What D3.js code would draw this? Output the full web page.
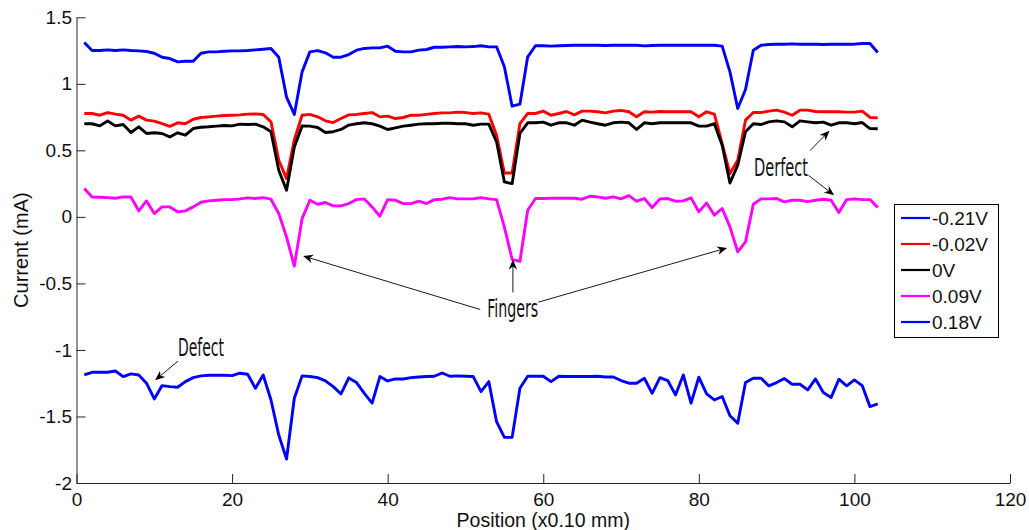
<!DOCTYPE html>
<html>
<head>
<meta charset="utf-8">
<script src="https://cdn.jsdelivr.net/npm/d3@7"></script>
<style>
  html, body { margin: 0; padding: 0; background: #fff; }
  svg { display: block; }
  .axis text { font-family: "Liberation Sans", Arial, sans-serif; font-size: 19px; fill: #111; }
  .axis path, .axis line { stroke: #262626; stroke-width: 1; }
</style>
</head>
<body>
<svg id="chart" width="1029" height="530"></svg>
<script>
// ---------------- DATA ----------------
const positions = d3.range(1, 104); // sample index 1..103 (x0.10 mm)

const seriesNames = ["-0.21V", "-0.02V", "0V", "0.09V", "0.18V"];
const seriesColors = ["#0000ff", "#ff0000", "#000000", "#ff00ff", "#0000ff"];

const valsM021 = [1.31,1.25,1.25,1.255,1.25,1.255,1.25,1.248,1.243,1.23,1.20,1.19,1.165,1.17,1.17,1.23,1.24,1.24,1.245,1.248,
  1.248,1.25,1.255,1.26,1.265,1.20,0.90,0.77,1.09,1.24,1.25,1.233,1.20,1.20,1.22,1.253,1.266,1.27,1.27,1.283,
  1.245,1.24,1.24,1.253,1.258,1.275,1.275,1.278,1.28,1.278,1.28,1.286,1.278,1.278,1.128,0.832,0.847,1.203,1.286,1.286,
  1.283,1.286,1.288,1.29,1.29,1.29,1.29,1.288,1.29,1.29,1.29,1.29,1.285,1.288,1.29,1.29,1.29,1.29,1.29,1.29,
  1.29,1.29,1.283,1.09,0.815,0.957,1.253,1.29,1.296,1.298,1.298,1.30,1.298,1.298,1.298,1.296,1.298,1.298,1.298,1.298,
  1.303,1.303,1.236];

const valsM002 = [0.777,0.777,0.764,0.784,0.772,0.764,0.727,0.757,0.727,0.72,0.70,0.68,0.707,0.70,0.734,0.747,0.752,0.757,0.762,0.764,
  0.767,0.772,0.774,0.77,0.714,0.426,0.288,0.58,0.764,0.77,0.752,0.722,0.709,0.739,0.767,0.77,0.777,0.784,0.752,0.757,
  0.739,0.747,0.764,0.764,0.77,0.777,0.782,0.782,0.787,0.784,0.777,0.782,0.772,0.614,0.33,0.33,0.70,0.777,0.777,0.795,
  0.764,0.777,0.792,0.767,0.795,0.795,0.79,0.782,0.795,0.80,0.79,0.752,0.79,0.787,0.792,0.79,0.79,0.79,0.79,0.752,
  0.79,0.772,0.55,0.326,0.426,0.727,0.784,0.784,0.795,0.802,0.787,0.764,0.802,0.802,0.792,0.79,0.79,0.79,0.787,0.787,
  0.795,0.747,0.744];

const vals0 = [0.70,0.70,0.684,0.72,0.684,0.694,0.634,0.677,0.627,0.632,0.627,0.60,0.632,0.614,0.664,0.674,0.677,0.682,0.687,0.684,
  0.697,0.694,0.697,0.677,0.64,0.35,0.20,0.526,0.684,0.682,0.672,0.634,0.64,0.657,0.69,0.70,0.707,0.70,0.682,0.657,
  0.669,0.682,0.689,0.697,0.70,0.70,0.704,0.704,0.70,0.70,0.689,0.697,0.697,0.564,0.263,0.25,0.627,0.707,0.707,0.712,
  0.689,0.707,0.707,0.689,0.727,0.712,0.70,0.689,0.707,0.712,0.707,0.657,0.707,0.70,0.707,0.707,0.707,0.707,0.707,0.682,
  0.682,0.70,0.539,0.255,0.388,0.64,0.70,0.694,0.714,0.722,0.714,0.677,0.722,0.714,0.707,0.712,0.689,0.707,0.707,0.70,
  0.709,0.664,0.662];

const valsP009 = [0.213,0.15,0.148,0.145,0.14,0.15,0.15,0.045,0.12,0.025,0.075,0.075,0.038,0.045,0.075,0.11,0.12,0.125,0.13,0.13,
  0.135,0.143,0.138,0.145,0.133,0.025,-0.15,-0.37,-0.013,0.125,0.095,0.108,0.083,0.083,0.10,0.13,0.135,0.075,0.005,0.13,
  0.125,0.10,0.10,0.118,0.10,0.13,0.133,0.145,0.135,0.135,0.135,0.145,0.135,0.13,-0.075,-0.32,-0.335,0.05,0.138,0.138,
  0.14,0.14,0.14,0.14,0.133,0.155,0.15,0.14,0.15,0.135,0.16,0.118,0.138,0.07,0.135,0.138,0.118,0.12,0.143,0.038,
  0.105,0.013,0.063,-0.075,-0.263,-0.188,0.095,0.135,0.135,0.138,0.113,0.125,0.125,0.115,0.125,0.133,0.125,0.033,0.13,0.135,
  0.13,0.13,0.07];

const valsP018 = [-1.188,-1.168,-1.168,-1.168,-1.158,-1.20,-1.18,-1.188,-1.25,-1.368,-1.268,-1.276,-1.28,-1.238,-1.208,-1.195,-1.19,-1.19,-1.19,-1.193,
  -1.175,-1.183,-1.288,-1.188,-1.376,-1.639,-1.82,-1.363,-1.195,-1.20,-1.208,-1.233,-1.276,-1.33,-1.21,-1.245,-1.326,-1.40,-1.20,-1.233,
  -1.218,-1.218,-1.208,-1.203,-1.20,-1.198,-1.173,-1.198,-1.195,-1.198,-1.20,-1.313,-1.238,-1.539,-1.657,-1.657,-1.288,-1.198,-1.198,-1.198,
  -1.238,-1.198,-1.20,-1.20,-1.20,-1.20,-1.198,-1.203,-1.203,-1.23,-1.25,-1.25,-1.213,-1.326,-1.208,-1.23,-1.338,-1.188,-1.40,-1.205,
  -1.33,-1.376,-1.35,-1.494,-1.551,-1.245,-1.213,-1.213,-1.27,-1.245,-1.215,-1.258,-1.258,-1.30,-1.218,-1.32,-1.358,-1.22,-1.27,-1.225,
  -1.268,-1.426,-1.406];

const xTicks = [0, 20, 40, 60, 80, 100, 120];
const yTicks = [-2, -1.5, -1, -0.5, 0, 0.5, 1, 1.5];
const xLabel = "Position (x0.10 mm)";
const yLabel = "Current (mA)";

// annotations in data coordinates
const annoTexts = [
  { text: "Derfect", x: 87.1, y: 0.307, w: 54 },
  { text: "Fingers", x: 52.8, y: -0.756, w: 51 },
  { text: "Defect",  x: 13.05, y: -1.048, w: 46 }
];
const annoArrows = [
  { x1: 94.3, y1: 0.499, x2: 96.8, y2: 0.647 },
  { x1: 94.1, y1: 0.312, x2: 97.4, y2: 0.162 },
  { x1: 51.9, y1: -0.696, x2: 29.13, y2: -0.294 },
  { x1: 56.1, y1: -0.568, x2: 56.1, y2: -0.321 },
  { x1: 59.36, y1: -0.641, x2: 83.63, y2: -0.233 },
  { x1: 13.05, y1: -1.084, x2: 10.1, y2: -1.228 }
];

// ---------------- CHART ----------------
const allSeries = [valsM021, valsM002, vals0, valsP009, valsP018];
const svg = d3.select("#chart");

const x = d3.scaleLinear().domain([0, 120]).range([76.5, 1010]);
const y = d3.scaleLinear().domain([-2, 1.5]).range([483, 17.3]);

// axes
svg.append("g").attr("class", "axis").attr("transform", "translate(0,483)")
  .call(d3.axisBottom(x).tickValues(xTicks).tickFormat(d3.format("d")).tickSizeInner(-9).tickSizeOuter(0).tickPadding(9.5));
svg.append("g").attr("class", "axis").attr("transform", "translate(76.5,0)")
  .call(d3.axisLeft(y).tickValues(yTicks).tickFormat(d => String(d)).tickSizeInner(-9).tickSizeOuter(0).tickPadding(4.5));

svg.append("text")
  .attr("x", (x.range()[0] + x.range()[1]) / 2).attr("y", 526.5)
  .attr("text-anchor", "middle")
  .style("font-family", "Liberation Sans, Arial, sans-serif").style("font-size", "19.5px").style("fill", "#111")
  .text(xLabel);

svg.append("text")
  .attr("transform", `translate(28,${(y.range()[0] + y.range()[1]) / 2}) rotate(-90)`)
  .attr("text-anchor", "middle")
  .style("font-family", "Liberation Sans, Arial, sans-serif").style("font-size", "20px").style("fill", "#111")
  .text(yLabel);

// lines
const line = d3.line().x((d, i) => x(positions[i])).y(d => y(d));
svg.append("g").selectAll("path").data(allSeries).join("path")
  .attr("d", d => line(d))
  .attr("fill", "none")
  .attr("stroke", (d, i) => seriesColors[i])
  .attr("stroke-width", 2.9)
  .attr("stroke-linejoin", "round");

// annotations
const ag = svg.append("g");
annoArrows.forEach(a => {
  const px1 = x(a.x1), py1 = y(a.y1), px2 = x(a.x2), py2 = y(a.y2);
  const dx = px2 - px1, dy = py2 - py1, L = Math.hypot(dx, dy);
  const ux = dx / L, uy = dy / L, nx = -uy, ny = ux;
  const hl = 10, hw = 4.2, notch = 3;
  const bx = px2 - ux * hl, by = py2 - uy * hl;
  ag.append("line")
    .attr("x1", px1).attr("y1", py1)
    .attr("x2", px2 - ux * (hl - notch)).attr("y2", py2 - uy * (hl - notch))
    .attr("stroke", "#000").attr("stroke-width", 0.9);
  ag.append("path")
    .attr("d", `M${px2},${py2} L${bx + nx * hw},${by + ny * hw} L${px2 - ux * (hl - notch)},${py2 - uy * (hl - notch)} L${bx - nx * hw},${by - ny * hw} Z`)
    .attr("fill", "#000");
});
annoTexts.forEach(t => {
  ag.append("text")
    .attr("x", x(t.x)).attr("y", y(t.y))
    .attr("textLength", t.w).attr("lengthAdjust", "spacingAndGlyphs")
    .style("font-family", "DejaVu Sans Condensed, DejaVu Sans, sans-serif")
    .style("font-stretch", "condensed")
    .style("font-size", "24px").style("fill", "#111")
    .text(t.text);
});

// legend
const lg = svg.append("g").attr("transform", "translate(894,204)");
lg.append("rect").attr("x", 0.5).attr("y", 0.5).attr("width", 104).attr("height", 133)
  .attr("fill", "#fff").attr("stroke", "#000").attr("stroke-width", 1);
seriesNames.forEach((name, i) => {
  const yy = 14 + i * 26;
  lg.append("line").attr("x1", 7).attr("x2", 36).attr("y1", yy).attr("y2", yy)
    .attr("stroke", seriesColors[i]).attr("stroke-width", 2.2);
  lg.append("text").attr("x", 38).attr("y", yy).attr("dy", "0.35em")
    .style("font-family", "Liberation Sans, Arial, sans-serif").style("font-size", "19px").style("fill", "#111")
    .text(name);
});
</script>
</body>
</html>
